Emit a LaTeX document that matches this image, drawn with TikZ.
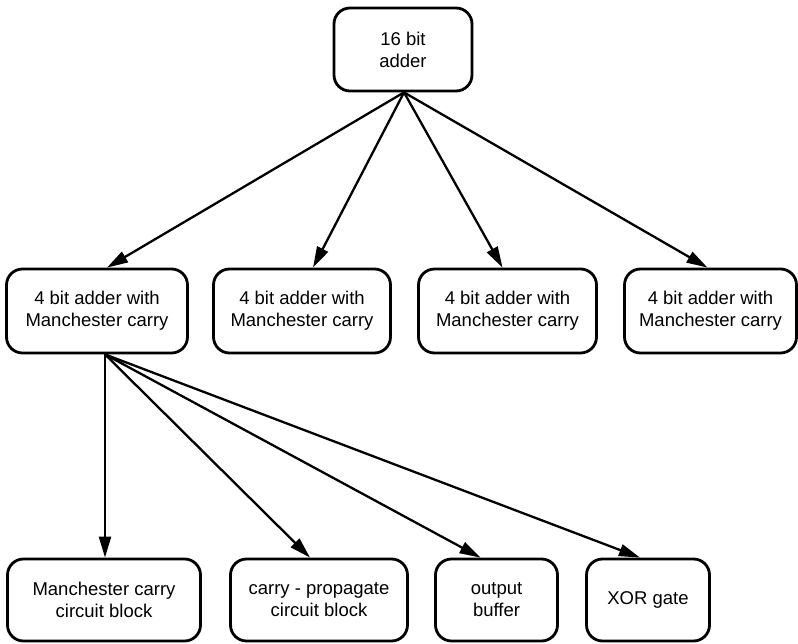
\documentclass[tikz,border=0pt]{standalone}
\usepackage{fontspec}
\setmainfont{Liberation Sans}
\usetikzlibrary{arrows.meta}
\begin{document}
\begin{tikzpicture}[x=1pt,y=-1pt,
  box/.style={draw=black, line width=2.8pt, rounded corners=16pt, align=center,
    inner sep=0pt, font=\fontsize{18.5}{22}\selectfont},
  link/.style={line width=2.3pt, -{Triangle[length=21pt,width=12pt]}}]
\useasboundingbox (0,0) rectangle (798,644);
\node[box, minimum width=138pt, minimum height=83pt] (top) at (403,49.5) {16 bit\\adder};
\node[box, minimum width=181pt, minimum height=84pt] (m1) at (97,311) {4 bit adder with\\Manchester carry};
\node[box, minimum width=177pt, minimum height=84pt] (m2) at (302,311) {4 bit adder with\\Manchester carry};
\node[box, minimum width=178pt, minimum height=84pt] (m3) at (507.5,311) {4 bit adder with\\Manchester carry};
\node[box, minimum width=172pt, minimum height=84pt] (m4) at (710.5,311) {4 bit adder with\\Manchester carry};
\node[box, minimum width=193pt, minimum height=82pt] (l1) at (104,600) {Manchester carry\\circuit block};
\node[box, minimum width=177pt, minimum height=82pt] (l2) at (319,600) {carry - propagate\\circuit block};
\node[box, minimum width=122pt, minimum height=82pt] (l3) at (496.5,600) {output\\buffer};
\node[box, minimum width=123pt, minimum height=82pt] (l4) at (648,600) {XOR gate};
\coordinate (o1) at ([xshift=1pt]top.south);
\draw[link] (o1) -- ([xshift=10pt]m1.north);
\draw[link] (o1) -- ([xshift=11pt]m2.north);
\draw[link] (o1) -- ([xshift=-5pt]m3.north);
\draw[link] (o1) -- ([xshift=-3pt]m4.north);
\coordinate (o2) at ([xshift=8pt]m1.south);
\draw[link] (o2) -- ([xshift=1pt]l1.north);
\draw[link] (o2) -- ([xshift=-9pt]l2.north);
\draw[link] (o2) -- ([xshift=-16pt]l3.north);
\draw[link] (o2) -- ([xshift=-8pt]l4.north);
\end{tikzpicture}
\end{document}
